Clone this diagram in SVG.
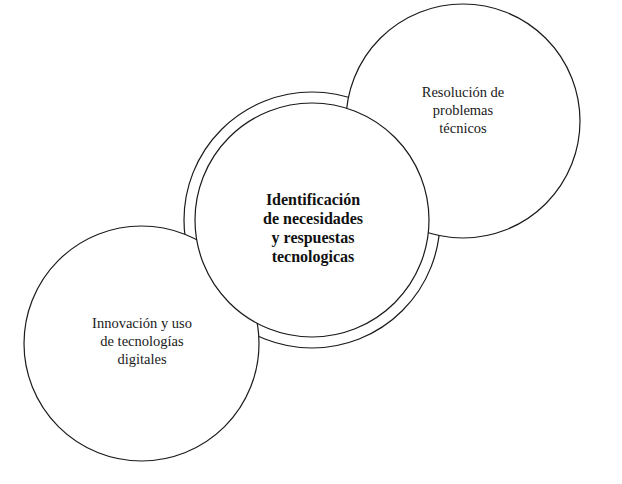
<svg xmlns="http://www.w3.org/2000/svg" width="622" height="484" viewBox="0 0 622 484">
<style>
.c{fill:#fff;stroke:#1a1a1a;stroke-width:1.2}
.t{font-family:"Liberation Serif","Times New Roman",serif;font-size:14.5px;fill:#1a1a1a;text-anchor:middle}
.b{font-family:"Liberation Serif","Times New Roman",serif;font-size:16px;font-weight:bold;fill:#111;text-anchor:middle}
</style>
<rect width="622" height="484" fill="#fff"/>
<g id="connectors"></g>
<g id="center-ring"><circle class="c" cx="312" cy="220" r="128"/></g>
<g id="node-resolucion">
<circle class="c" cx="463" cy="121" r="117"/>
<text class="t" x="463" y="97">Resolución de</text>
<text class="t" x="463" y="115">problemas</text>
<text class="t" x="463" y="133">técnicos</text>
</g>
<g id="node-innovacion">
<circle class="c" cx="141.5" cy="343.5" r="117.5"/>
<text class="t" x="142" y="328">Innovación y uso</text>
<text class="t" x="142" y="346">de tecnologías</text>
<text class="t" x="142" y="364">digitales</text>
</g>
<g id="node-identificacion">
<circle class="c" cx="312" cy="220" r="117"/>
<text class="b" x="313" y="205">Identificación</text>
<text class="b" x="313" y="224">de necesidades</text>
<text class="b" x="313" y="243">y respuestas</text>
<text class="b" x="313" y="262">tecnologicas</text>
</g>
</svg>
